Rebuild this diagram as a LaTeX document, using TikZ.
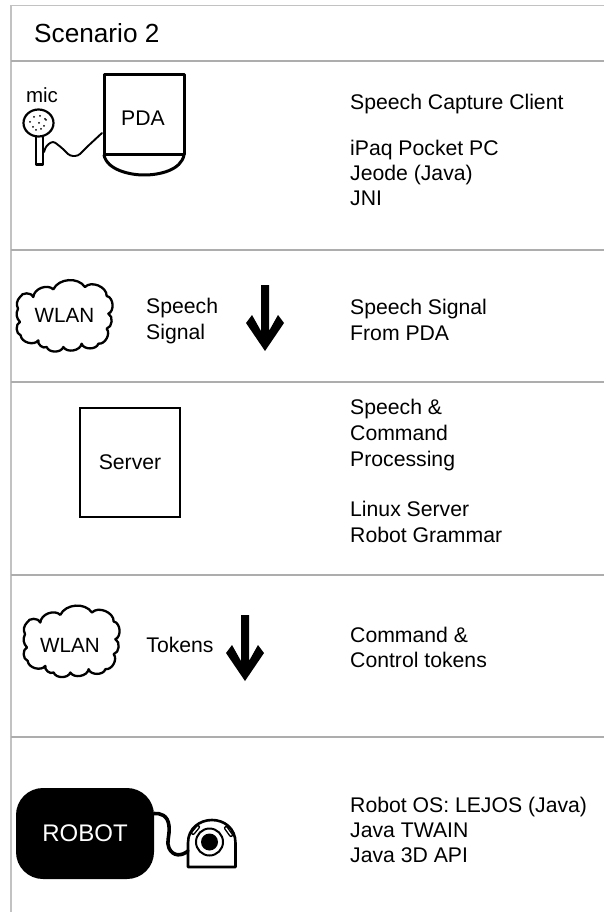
\documentclass[tikz,border=0pt]{standalone}
\usepackage{fontspec}
\setmainfont{Liberation Sans}
\usetikzlibrary{calc}
\definecolor{rule}{gray}{0.68}
\definecolor{frame}{gray}{0.76}
\newcommand{\bodysize}{\fontsize{21.2}{25}\selectfont}
\newcommand{\loosesize}{\fontsize{21.2}{26}\selectfont}
\tikzset{
 x=1pt,y=-1pt,
 sep/.style={draw=rule,line width=2pt},
 frameline/.style={draw=frame,line width=1.6pt},
 lbl/.style={font=\bodysize,anchor=north west,inner sep=0pt,align=left},
 loose/.style={font=\loosesize,anchor=north west,inner sep=0pt,align=left},
 ctr/.style={font=\bodysize,inner sep=0pt,align=left},
 wlanlabel/.style={font=\fontsize{20.6}{24}\selectfont,inner sep=0pt},
 ink/.style={draw=black,line width=2.2pt,line join=round,line cap=round},
 thick ink/.style={draw=black,line width=3pt,line join=round,line cap=round},
 cloudline/.style={draw=black,line width=2.3pt,line join=round},
 bp/.style={bend left=#1},
}
% cloud outline: cusp points in a 3x local grid
\newcommand{\cloudshape}[2]{%
 \begin{scope}[shift={(#1,#2)},scale=1/3]
 \draw[cloudline]
 (24,110) to[bp=35] (30,75) to[bp=70] (70,75) to[bp=65] (130,52) to[bp=60] (225,45)
 to[bp=70] (290,72) to[bp=75] (295,125) to[bp=70] (290,170) to[bp=70] (265,215)
 to[bp=75] (215,215) to[bp=70] (160,225) to[bp=70] (110,225) to[bp=70] (85,205)
 to[bp=70] (32,190) to[bp=70] (30,150) to[bp=35] (24,110) -- cycle;
 \end{scope}}
% block arrow: top centre x,y
\newcommand{\blockarrow}[2]{%
 \fill[black] (#1-4,#2) -- (#1+4,#2) -- (#1+4,#2+46) -- (#1+13,#2+30) -- (#1+19,#2+38)
 -- (#1,#2+66) -- (#1-19,#2+38) -- (#1-13,#2+30) -- (#1-4,#2+46) -- cycle;}
\begin{document}
\begin{tikzpicture}
\useasboundingbox (0,0) rectangle (604,912);
\fill[white] (0,0) rectangle (604,912);
% frame and rows
\draw[frameline] (11,912) -- (11,5.5) -- (604,5.5);
\foreach \yy in {61.5,250,382,575,737}{\draw[sep] (11,\yy) -- (604,\yy);}
\node[font=\fontsize{26.2}{30}\selectfont,inner sep=0pt,anchor=west] (title) at (34,33) {Scenario 2};
% row 1
\node[font=\fontsize{20.5}{24}\selectfont,inner sep=0pt] (mic) at (42,95) {mic};
\draw[thick ink] (104,75) -- (184,75) -- (184,155) -- (104,155) -- cycle;
\draw[thick ink] (104,155) .. controls (107,170) and (130,175) .. (144,175) .. controls (160,175) and (181,170) .. (184,155);
\node[ctr] (pda) at (143,118) {PDA};
\draw[ink] (38.5,123) circle[x radius=15,y radius=13.5];
\foreach \a/\b in {30/122,34/117,40/116,46/120,33/127,39/123,44/126,36/130,41/129,45/119}{\fill (\a,\b) circle (1);}
\draw[ink] (36,137) -- (36,164.5) -- (43,164.5) -- (43,137);
\coordinate (micplug) at (44,152);
\coordinate (pdaplug) at (102,133);
\draw[ink,line width=1.9pt,rounded corners=3pt] (micplug) -- (46,146) -- (53,141) -- (62,148) -- (70,156) -- (78,156) -- (88,146) -- (pdaplug);
\node[lbl] (r1) at (350,93.5) {Speech Capture Client\\[21pt]iPaq Pocket PC\\Jeode (Java)\\JNI};
% row 2
\cloudshape{10}{272}
\node[wlanlabel] (wlanA) at (64.5,315) {WLAN};
\node[loose] (sig) at (146,298) {Speech\\Signal};
\blockarrow{265}{285}
\node[loose] (r2) at (350,299) {Speech Signal\\From PDA};
% row 3
\node[draw=black,line width=2pt,minimum width=100pt,minimum height=109pt,inner sep=0pt,font=\bodysize] (server) at (130,462) {Server};
\node[loose] (r3) at (350,399) {Speech \&\\Command\\Processing\\[24pt]Linux Server\\Robot Grammar};
% row 4
\cloudshape{17}{597.5}
\node[wlanlabel] (wlanB) at (70,645) {WLAN};
\node[ctr] (tok) at (180,645) {Tokens};
\blockarrow{245}{615}
\node[lbl] (r4) at (350,627) {Command \&\\Control tokens};
% row 5
\node[fill=black,rounded corners=27pt,minimum width=138pt,minimum height=91pt,inner sep=0pt,text=white,font=\fontsize{24}{28}\selectfont] (robot) at (85,833.5) {ROBOT};
\coordinate (camin) at (188,851);
\draw[ink,line width=3.6pt] (robot.east |- 0,813.5) .. controls (160,813) and (168,815) .. (169,826) .. controls (170,836) and (166,842) .. (169,848) .. controls (173,857) and (182,856) .. (camin);
\draw[ink,line width=2.6pt] (188,867) -- (188,843) .. controls (188,828) and (200,820) .. (212,820) .. controls (224,820) and (235.5,828) .. (235.5,843) -- (235.5,867) -- cycle;
\draw[black,line width=2pt] (209.5,842) circle (13.5);
\fill (209.5,842) circle (8.5);
\draw[black,line width=4.2pt,line cap=round] (193,833) -- (198,827);
\draw[white,line width=1.3pt,line cap=round] (193,833) -- (198,827);
\draw[black,line width=4.2pt,line cap=round] (226,828) -- (231,835);
\draw[white,line width=1.3pt,line cap=round] (226,828) -- (231,835);
\node[lbl] (r5) at (350,796.5) {Robot OS: LEJOS (Java)\\Java TWAIN\\Java 3D API};
\end{tikzpicture}
\end{document}
